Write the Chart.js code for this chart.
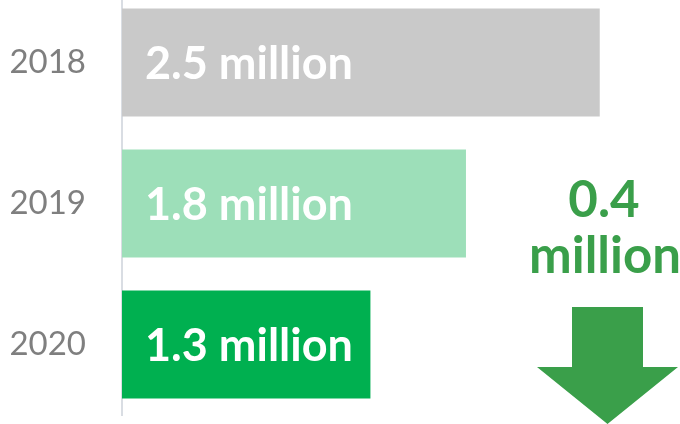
<!DOCTYPE html>
<html>
<head>
<meta charset="utf-8">
<script src="https://cdn.jsdelivr.net/npm/chart.js@4/dist/chart.umd.min.js"></script>
<style>
  html, body { margin: 0; padding: 0; background: #fff; overflow: hidden; }
  #wrap { position: absolute; left: 0; top: -8px; width: 680px; height: 432px; }
</style>
</head>
<body>
<div id="wrap"><canvas id="c" width="680" height="432"></canvas></div>
<script>
// ---- data ----
const years = ['2018', '2019', '2020'];
const valuesMillion = [2.5, 1.8, 1.3];
const valueLabels = ['2.5 million', '1.8 million', '1.3 million'];
const barColors = ['#c9c9c9', '#9ddfb9', '#00b050'];
const changeLabel = ['0.4', 'million'];
const axisMax = 2.92;

const FONT = 'Lato, "Open Sans", sans-serif';
const GREEN = '#3a9f4a';

const barLabelPlugin = {
  id: 'barLabels',
  afterDatasetsDraw(chart) {
    const ctx = chart.ctx;
    const meta = chart.getDatasetMeta(0);
    ctx.save();
    ctx.fillStyle = '#ffffff';
    ctx.font = 'bold 45px ' + FONT;
    ctx.textAlign = 'left';
    ctx.textBaseline = 'middle';
    meta.data.forEach((bar, i) => {
      ctx.fillText(valueLabels[i], bar.base + 23, bar.y + 2);
    });
    ctx.restore();
  }
};

const changePlugin = {
  id: 'changeNote',
  afterDraw(chart) {
    const ctx = chart.ctx;
    const area = chart.chartArea;
    const cx = area.right - 76;
    ctx.save();
    ctx.fillStyle = GREEN;
    ctx.font = 'bold 51px ' + FONT;
    ctx.textAlign = 'center';
    ctx.textBaseline = 'alphabetic';
    ctx.fillText(changeLabel[0], cx, 225);
    ctx.fillText(changeLabel[1], cx + 1, 281);
    // arrow
    const ax = area.right - 72.5;
    ctx.beginPath();
    ctx.moveTo(ax - 35.5, 315);
    ctx.lineTo(ax + 35.5, 315);
    ctx.lineTo(ax + 35.5, 375);
    ctx.lineTo(ax + 70.5, 375);
    ctx.lineTo(ax, 432);
    ctx.lineTo(ax - 70.5, 375);
    ctx.lineTo(ax - 35.5, 375);
    ctx.closePath();
    ctx.fill();
    ctx.restore();
  }
};

new Chart(document.getElementById('c'), {
  type: 'bar',
  data: {
    labels: years,
    datasets: [{
      data: valuesMillion,
      backgroundColor: barColors,
      borderWidth: 0,
      categoryPercentage: 1,
      barPercentage: 0.766
    }]
  },
  options: {
    indexAxis: 'y',
    responsive: false,
    animation: false,
    devicePixelRatio: 1,
    layout: { padding: { top: 0, right: 0, bottom: 9, left: 0 } },
    plugins: { legend: { display: false }, tooltip: { enabled: false } },
    scales: {
      x: { display: false, min: 0, max: axisMax },
      y: {
        afterFit(scale) { scale.width = 122; scale.paddingTop = 0; scale.paddingBottom = 0; },
        grid: { display: false, drawTicks: false, tickLength: 0 },
        border: { display: true, color: '#d9dde3', width: 2 },
        ticks: { color: '#7f7f7f', font: { family: FONT, size: 33 }, padding: 36 }
      }
    }
  },
  plugins: [barLabelPlugin, changePlugin]
});
</script>
</body>
</html>
